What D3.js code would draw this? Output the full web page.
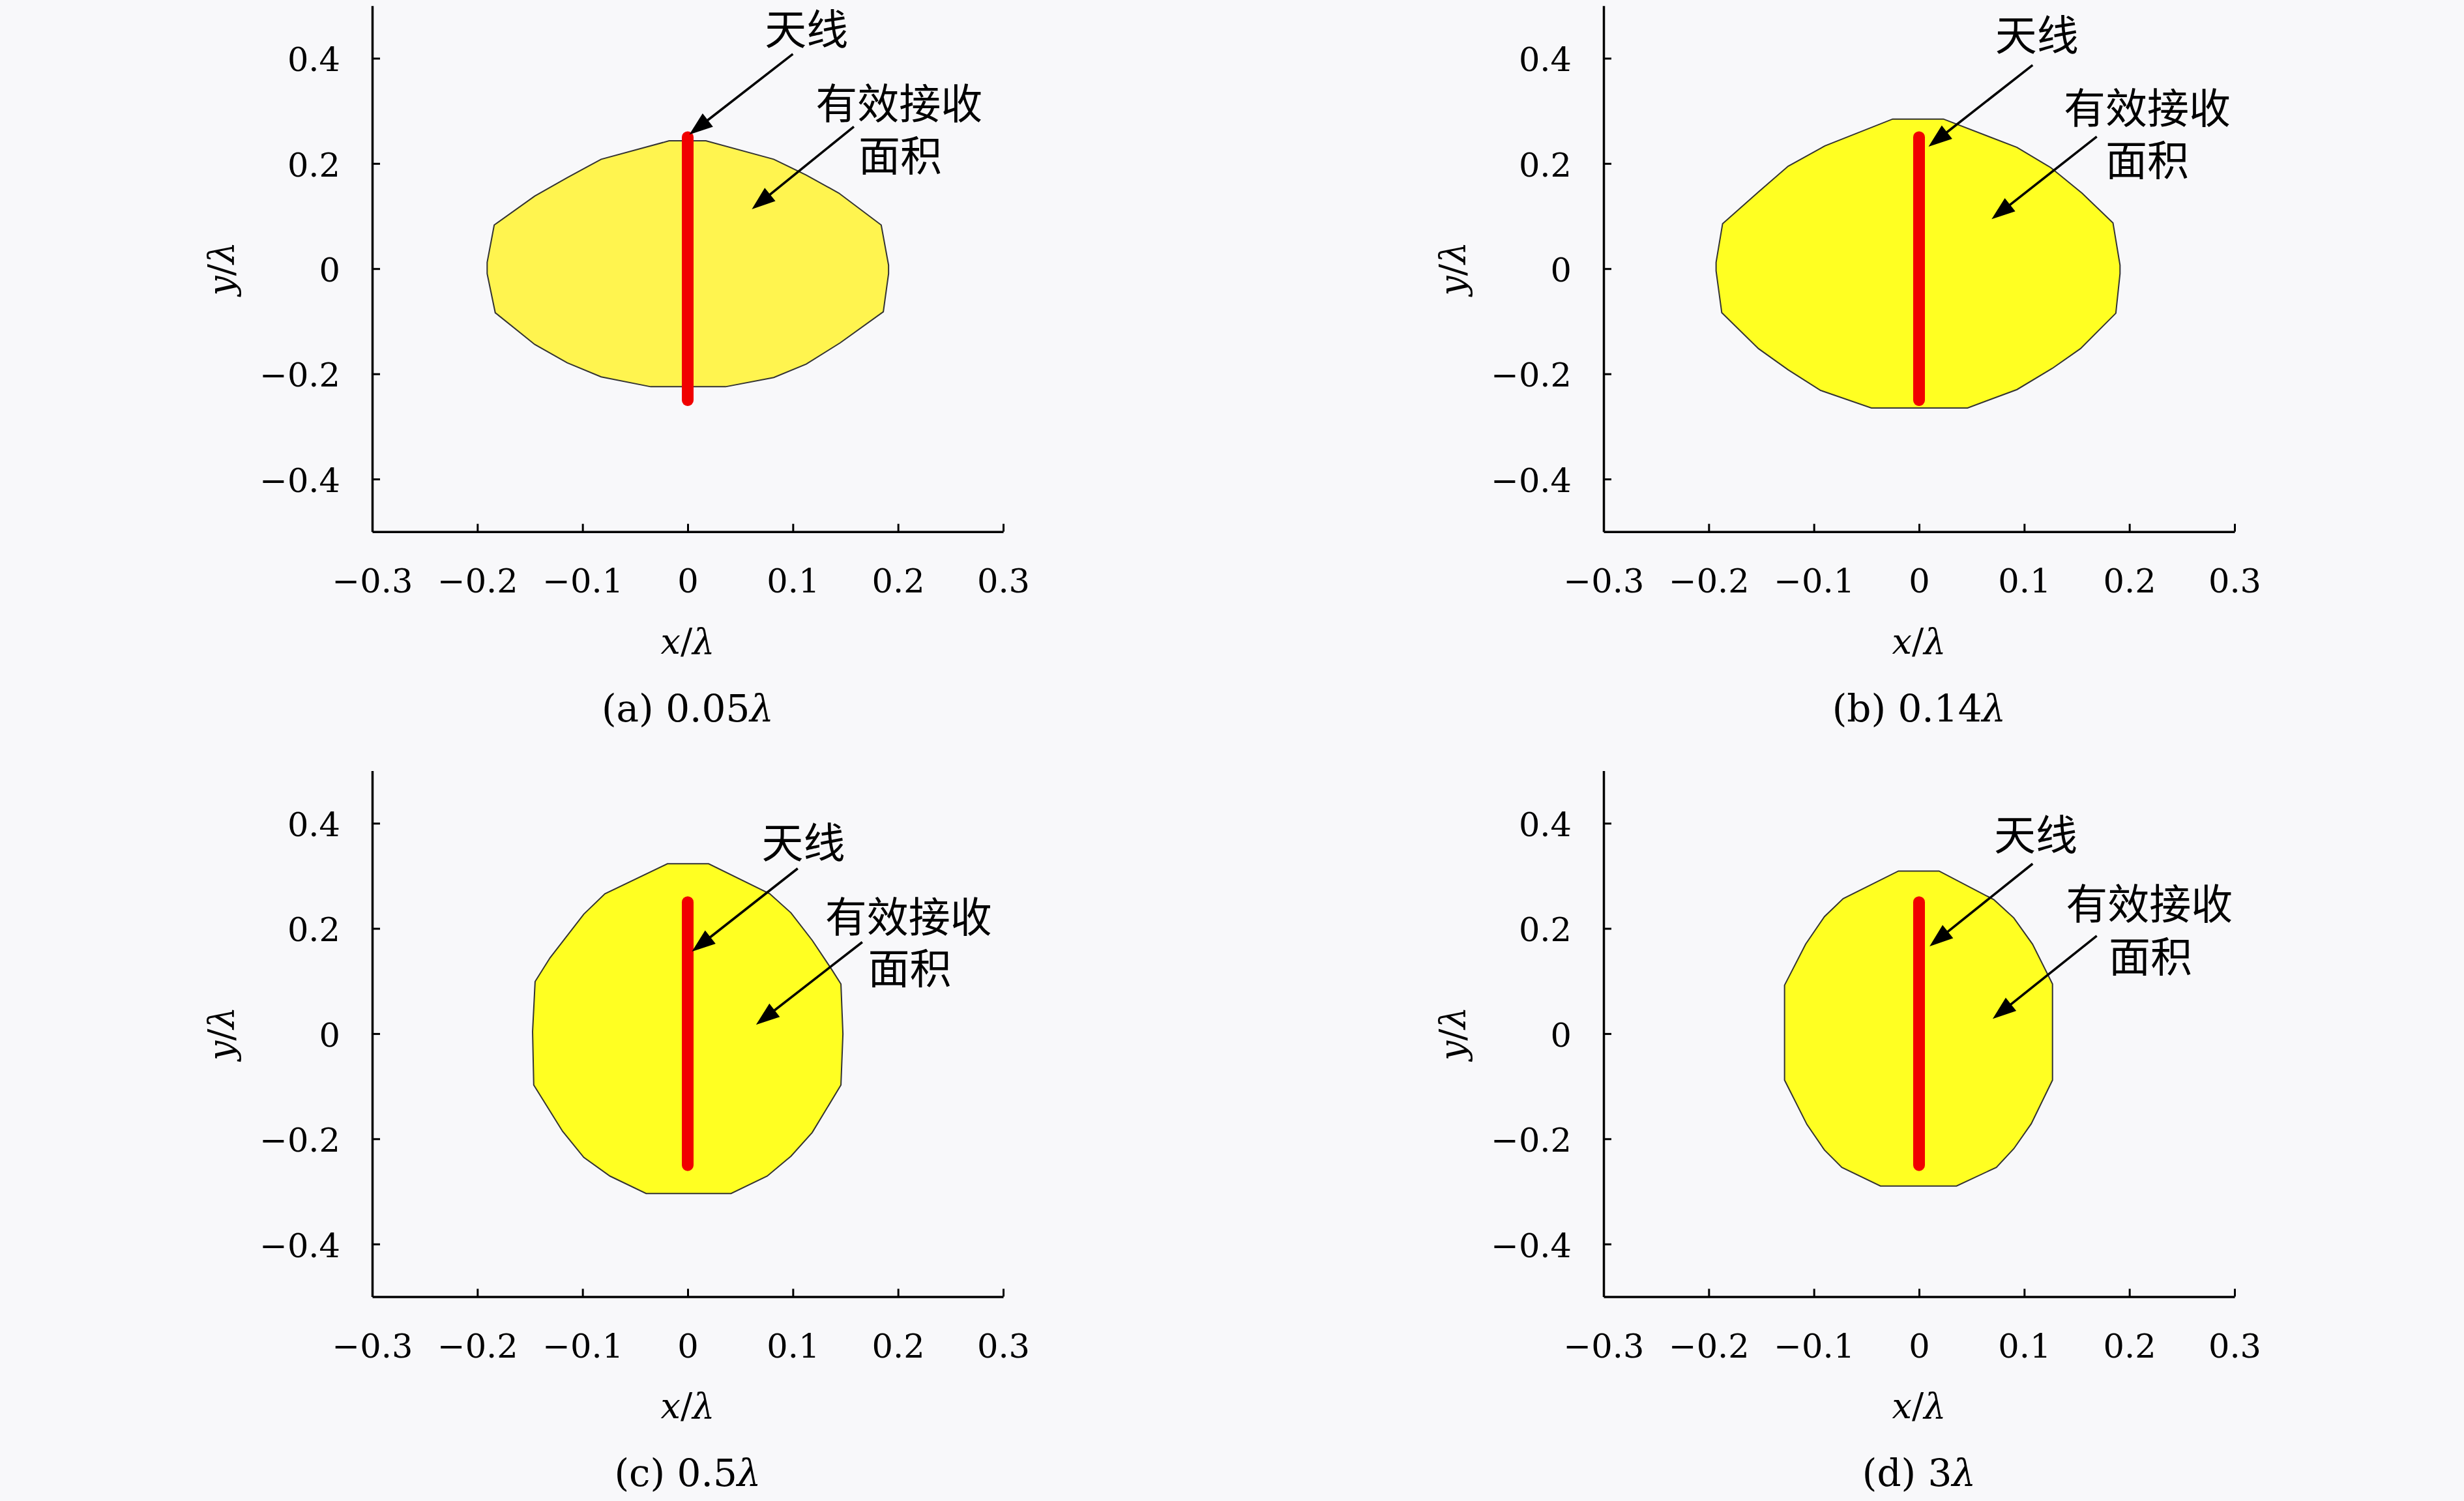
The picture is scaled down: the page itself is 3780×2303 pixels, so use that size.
<!DOCTYPE html>
<html>
<head>
<meta charset="utf-8">
<script src="https://cdn.jsdelivr.net/npm/d3@7"></script>
<style>
  html, body { margin: 0; padding: 0; background: #f8f8fa; }
  svg { display: block; }
</style>
</head>
<body>
<div id="chart"></div>
<script>
// tick values shared by all four panels
const xTicks = [-0.3, -0.2, -0.1, 0, 0.1, 0.2, 0.3]
const yTicks = [-0.4, -0.2, 0, 0.2, 0.4]

// effective receiving area outlines, [x/λ, y/λ]
const areaA = [
  [-0.0177, 0.243], [0.0173, 0.243], [0.0818, 0.208], [0.1127, 0.178], [0.1437, 0.1436],
  [0.184, 0.083], [0.191, 0.0066], [0.191, -0.0095], [0.186, -0.082], [0.145, -0.141],
  [0.1127, -0.1815], [0.0818, -0.207], [0.036, -0.2245], [-0.0352, -0.2245], [-0.0823, -0.2057],
  [-0.1146, -0.179], [-0.1455, -0.144], [-0.183, -0.0838], [-0.1907, -0.0095], [-0.1907, 0.012],
  [-0.184, 0.083], [-0.1455, 0.138], [-0.1146, 0.173], [-0.0823, 0.208],
]
const areaB = [
  [-0.0251, 0.2844], [0.0232, 0.2844], [0.0931, 0.2306], [0.1253, 0.192], [0.1549, 0.1436],
  [0.1844, 0.0871], [0.1911, 0.0066], [0.1911, -0.0095], [0.1871, -0.0848], [0.1535, -0.152],
  [0.1267, -0.1896], [0.0931, -0.2299], [0.0461, -0.2648], [-0.0453, -0.2648], [-0.0936, -0.2315],
  [-0.1245, -0.1923], [-0.1527, -0.152], [-0.1876, -0.0838], [-0.193, -0.0042], [-0.193, 0.012],
  [-0.1868, 0.0855], [-0.1527, 0.146], [-0.1245, 0.1947], [-0.0896, 0.2333],
]
const areaC = [
  [-0.0193, 0.3229], [0.0199, 0.3229], [0.078, 0.266], [0.0982, 0.2296], [0.1184, 0.1774],
  [0.1374, 0.1205], [0.1457, 0.0943], [0.1476, -0.0005], [0.1457, -0.0978], [0.1184, -0.188],
  [0.0982, -0.233], [0.0756, -0.2709], [0.0412, -0.304], [-0.0395, -0.304], [-0.0739, -0.2709],
  [-0.0988, -0.2353], [-0.119, -0.1856], [-0.1464, -0.0978], [-0.1475, 0.004], [-0.1451, 0.099],
  [-0.1309, 0.1442], [-0.0988, 0.2271], [-0.0787, 0.266],
]
const areaD = [
  [-0.0196, 0.3092], [0.019, 0.3092], [0.0712, 0.2546], [0.0901, 0.22], [0.1079, 0.1702],
  [0.1269, 0.0943], [0.1269, -0.0883], [0.1067, -0.1713], [0.0901, -0.2188], [0.0735, -0.2543],
  [0.0356, -0.2898], [-0.0367, -0.2898], [-0.0734, -0.2543], [-0.09, -0.2212], [-0.1066, -0.1728],
  [-0.1279, -0.0883], [-0.1279, 0.092], [-0.1078, 0.1702], [-0.09, 0.2224], [-0.0722, 0.2566],
]

// half-wave dipole, drawn along the y axis
const antenna = [[0, -0.25], [0, 0.25]]

// panel captions: letter and spacing value
const captionLetters = ['(a)', '(b)', '(c)', '(d)']
const captionValues = ['0.05', '0.14', '0.5', '3']

// annotation anchors in data units, one per panel
const antennaLabelAt = [[0.113, 0.454], [0.112, 0.443], [0.110, 0.362], [0.111, 0.376]]
const areaLine1At = [[0.201, 0.313], [0.217, 0.304], [0.210, 0.221], [0.219, 0.245]]
const areaLine2At = [[0.202, 0.213], [0.217, 0.205], [0.211, 0.122], [0.220, 0.145]]
const antennaArrows = [
  [[0.100, 0.408], [0.0015, 0.255]],
  [[0.108, 0.387], [0.009, 0.232]],
  [[0.1046, 0.314], [0.004, 0.156]],
  [[0.108, 0.323], [0.010, 0.166]],
]
const areaArrows = [
  [[0.158, 0.27], [0.061, 0.113]],
  [[0.169, 0.251], [0.069, 0.094]],
  [[0.166, 0.174], [0.065, 0.017]],
  [[0.169, 0.186], [0.070, 0.028]],
]

const areas = [areaA, areaB, areaC, areaD]
const fills = ['#fff44f', '#ffff22', '#ffff22', '#ffff22']

// page geometry
const W = 3780
const H = 2303
const colLeft = [571, 2460]
const rowTop = [8.7, 1182.4]
const plotW = 968
const plotH = 807

const serif = '"DejaVu Serif", "Liberation Serif", serif'
// latin primary font keeps the line box compact, CJK glyphs come from Noto
const cjk = '"Liberation Sans", "Noto Sans CJK SC", sans-serif'

const svg = d3
  .select('#chart')
  .append('svg')
  .attr('width', W)
  .attr('height', H)
  .attr('viewBox', `0 0 ${W} ${H}`)

svg.append('rect').attr('width', W).attr('height', H).attr('fill', '#f8f8fa')

const tickFormat = d => (d === 0 ? '0' : d3.format('.1f')(d))

// draws an arrow with a filled triangular head
function drawArrow(g, x1, y1, x2, y2) {
  const dx = x2 - x1
  const dy = y2 - y1
  const len = Math.hypot(dx, dy)
  const ux = dx / len
  const uy = dy / len
  const headL = 36
  const headW = 13
  const bx = x2 - ux * headL
  const by = y2 - uy * headL

  g.append('line')
    .attr('x1', x1)
    .attr('y1', y1)
    .attr('x2', bx + ux * 4)
    .attr('y2', by + uy * 4)
    .attr('stroke', '#000')
    .attr('stroke-width', 3.6)

  g.append('path')
    .attr('d', `M${x2},${y2}L${bx - uy * headW},${by + ux * headW}L${bx + uy * headW},${by - ux * headW}Z`)
    .attr('fill', '#000')
}

areas.forEach((area, i) => {
  const left = colLeft[i % 2]
  const top = rowTop[Math.floor(i / 2)]

  const x = d3.scaleLinear().domain([-0.3, 0.3]).range([0, plotW])
  const y = d3.scaleLinear().domain([-0.5, 0.5]).range([plotH, 0])

  const g = svg.append('g').attr('transform', `translate(${left},${top})`)

  // receiving area polygon
  g.append('path')
    .datum(area)
    .attr('d', d3.line().x(d => x(d[0])).y(d => y(d[1])).curve(d3.curveLinearClosed))
    .attr('fill', fills[i])
    .attr('stroke', '#333')
    .attr('stroke-width', 2)

  // antenna
  g.append('path')
    .datum(antenna)
    .attr('d', d3.line().x(d => x(d[0])).y(d => y(d[1])))
    .attr('stroke', '#f00000')
    .attr('stroke-width', 18)
    .attr('stroke-linecap', 'round')
    .attr('fill', 'none')

  // axes, ticks pointing inward
  const xAxis = g
    .append('g')
    .attr('transform', `translate(0,${plotH})`)
    .call(d3.axisBottom(x).tickValues(xTicks).tickFormat(tickFormat).tickSizeInner(-12).tickSizeOuter(0).tickPadding(57))

  const yAxis = g
    .append('g')
    .call(d3.axisLeft(y).tickValues(yTicks).tickFormat(tickFormat).tickSizeInner(-12).tickSizeOuter(0).tickPadding(49))

  ;[xAxis, yAxis].forEach(ax => {
    ax.select('.domain').attr('stroke', '#000').attr('stroke-width', 3.5)
    ax.selectAll('.tick line').attr('stroke', '#000').attr('stroke-width', 3)
    ax.selectAll('.tick text')
      .attr('fill', '#000')
      .style('font-family', serif)
      .style('font-size', '51px')
  })
  yAxis.selectAll('.tick text').attr('dy', '0.38em')

  // axis titles
  const xt = g
    .append('text')
    .attr('x', x(0))
    .attr('y', plotH + 187)
    .attr('text-anchor', 'middle')
    .style('font-family', serif)
    .style('font-size', '54px')
  xt.append('tspan').style('font-style', 'italic').text('x')
  xt.append('tspan').text('/')
  xt.append('tspan').style('font-style', 'italic').text('λ')

  const yt = g
    .append('text')
    .attr('transform', `translate(${-232},${y(0)}) rotate(-90)`)
    .attr('text-anchor', 'middle')
    .attr('dominant-baseline', 'central')
    .style('font-family', serif)
    .style('font-size', '54px')
  yt.append('tspan').style('font-style', 'italic').text('y')
  yt.append('tspan').text('/')
  yt.append('tspan').style('font-style', 'italic').text('λ')

  // caption below the panel
  const cap = g
    .append('text')
    .attr('x', x(0))
    .attr('y', plotH + 291)
    .attr('text-anchor', 'middle')
    .style('font-family', serif)
    .style('font-size', '58px')
  cap.append('tspan').text(`${captionLetters[i]} ${captionValues[i]}`)
  cap.append('tspan').style('font-style', 'italic').text('λ')

  // antenna and area labels
  const notes = [
    ['天线', antennaLabelAt[i]],
    ['有效接收', areaLine1At[i]],
    ['面积', areaLine2At[i]],
  ]
  notes.forEach(([label, p]) => {
    g.append('text')
      .attr('x', x(p[0]))
      .attr('y', y(p[1]))
      .attr('text-anchor', 'middle')
      .attr('dominant-baseline', 'central')
      .style('font-family', cjk)
      .style('font-size', '64px')
      .attr('fill', '#000')
      .text(label)
  })

  ;[antennaArrows[i], areaArrows[i]].forEach(([s, t]) => {
    drawArrow(g, x(s[0]), y(s[1]), x(t[0]), y(t[1]))
  })
})
</script>
</body>
</html>
